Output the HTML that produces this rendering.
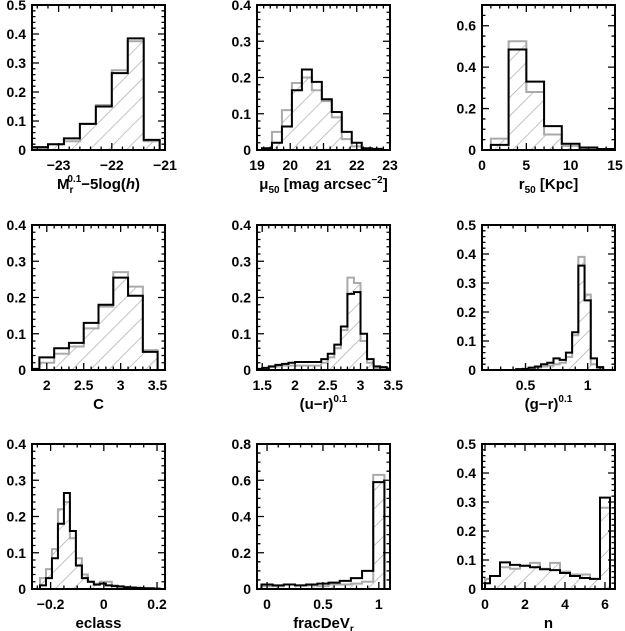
<!DOCTYPE html>
<html><head><meta charset="utf-8">
<style>
html,body{margin:0;padding:0;background:#fff;}
svg{display:block;}
text{font-family:"Liberation Sans",sans-serif;font-weight:bold;fill:#000;}
</style></head>
<body>
<svg id="fig" width="625" height="631" viewBox="0 0 625 631" xmlns="http://www.w3.org/2000/svg">
<defs>
<pattern id="hatch" patternUnits="userSpaceOnUse" width="13" height="13" patternTransform="rotate(45)">
<line x1="0" y1="0" x2="0" y2="13" stroke="#aaa" stroke-width="1.4"/>
</pattern>
</defs>
</svg>
<script>
// ---- data (one set of small arrays per panel) ----
const p1Edges=[-23.5,-23.2,-22.9,-22.6,-22.3,-22.0,-21.7,-21.4,-21.1];
const p1Black=[0.01,0.02,0.04,0.09,0.15,0.265,0.385,0.035];
const p1Gray=[0.005,0.02,0.03,0.09,0.155,0.275,0.375,0.03];
const p1XTicks=[-23,-22,-21];
const p1YTicks=[0,0.1,0.2,0.3,0.4,0.5];

const p2Edges=[19.15,19.45,19.75,20.05,20.35,20.65,20.95,21.25,21.55,21.85,22.15,22.45,22.75];
const p2Black=[0.005,0.02,0.065,0.165,0.222,0.188,0.14,0.105,0.05,0.02,0.005,0.003];
const p2Gray=[0.005,0.05,0.11,0.185,0.2,0.165,0.135,0.09,0.03,0.01,0.003,0.001];
const p2XTicks=[19,20,21,22,23];
const p2YTicks=[0,0.1,0.2,0.3,0.4];

const p3Edges=[1,3,5,7,9,11,13,15];
const p3Black=[0.025,0.485,0.33,0.115,0.03,0.012,0.005];
const p3Gray=[0.055,0.525,0.28,0.075,0.02,0.008,0.003];
const p3XTicks=[0,5,10,15];
const p3YTicks=[0,0.2,0.4,0.6];

const p4Edges=[1.7,1.9,2.1,2.3,2.5,2.7,2.9,3.1,3.3,3.5];
const p4Black=[0.003,0.035,0.06,0.075,0.13,0.18,0.255,0.205,0.05];
const p4Gray=[0.0,0.02,0.045,0.065,0.115,0.175,0.27,0.23,0.055];
const p4XTicks=[2,2.5,3,3.5];
const p4YTicks=[0,0.1,0.2,0.3,0.4];

const p5Edges=[1.4,1.5,1.6,1.7,1.8,1.9,2.0,2.1,2.2,2.3,2.4,2.5,2.6,2.7,2.8,2.9,3.0,3.1,3.2,3.3,3.4,3.5];
const p5Black=[0.003,0.006,0.01,0.014,0.017,0.02,0.022,0.022,0.022,0.022,0.03,0.045,0.07,0.12,0.21,0.215,0.1,0.03,0.01,0.008,0.004];
const p5Gray=[0.002,0.005,0.008,0.01,0.012,0.012,0.012,0.012,0.012,0.012,0.02,0.035,0.06,0.11,0.255,0.24,0.08,0.02,0.005,0.003,0.002];
const p5XTicks=[1.5,2,2.5,3,3.5];
const p5YTicks=[0,0.1,0.2,0.3,0.4];

const p6Edges=[0.425,0.475,0.525,0.575,0.625,0.675,0.725,0.775,0.825,0.875,0.925,0.975,1.025,1.075,1.125];
const p6Black=[0.003,0.004,0.008,0.012,0.02,0.025,0.04,0.035,0.06,0.13,0.36,0.24,0.04,0.01];
const p6Gray=[0.002,0.003,0.005,0.008,0.012,0.015,0.02,0.025,0.045,0.12,0.39,0.26,0.02,0.005];
const p6XTicks=[0.5,1];
const p6YTicks=[0,0.1,0.2,0.3,0.4,0.5];

const p7Edges=[-0.24,-0.2175,-0.195,-0.1725,-0.15,-0.1275,-0.105,-0.0825,-0.06,-0.0375,-0.015,0.0075,0.03,0.0525,0.075,0.0975,0.12,0.1425,0.165,0.1875,0.21];
const p7Black=[0.01,0.03,0.085,0.18,0.265,0.16,0.065,0.03,0.02,0.012,0.015,0.01,0.008,0.007,0.005,0.004,0.003,0.002,0.002,0.001];
const p7Gray=[0.03,0.055,0.11,0.22,0.24,0.14,0.085,0.04,0.02,0.015,0.02,0.02,0.01,0.008,0.006,0.004,0.003,0.002,0.001,0.001];
const p7XTicks=[-0.2,0,0.2];
const p7YTicks=[0,0.1,0.2,0.3,0.4];

const p8Edges=[-0.05,0.05,0.15,0.25,0.35,0.45,0.55,0.65,0.75,0.85,0.95,1.05];
const p8Black=[0.025,0.02,0.025,0.02,0.025,0.03,0.035,0.045,0.06,0.1,0.59];
const p8Gray=[0.015,0.015,0.025,0.02,0.02,0.015,0.025,0.025,0.03,0.04,0.63];
const p8XTicks=[0,0.5,1];
const p8YTicks=[0,0.2,0.4,0.6,0.8];

const p9Edges=[0,0.25,0.75,1.25,1.75,2.25,2.75,3.25,3.75,4.25,4.75,5.25,5.75,6.25];
const p9Black=[0.02,0.045,0.092,0.083,0.08,0.075,0.068,0.065,0.055,0.045,0.038,0.035,0.315];
const p9Gray=[0.035,0.045,0.075,0.07,0.08,0.09,0.07,0.09,0.06,0.05,0.05,0.035,0.28];
const p9XTicks=[0,2,4,6];
const p9YTicks=[0,0.1,0.2,0.3,0.4,0.5];

const NS="http://www.w3.org/2000/svg";
const svg=document.getElementById('fig');
function mk(tag,attrs,parent){const e=document.createElementNS(NS,tag);for(const k in attrs)e.setAttribute(k,attrs[k]);(parent||svg).appendChild(e);return e;}

const panels=[
 {name:'abs-mag',edges:p1Edges,black:p1Black,gray:p1Gray,xt:p1XTicks,yt:p1YTicks,xmin:-23.5,xmax:-21,ymax:0.5,xminor:0.2,yminor:0.02,col:0,row:0,lab:'mag'},
 {name:'surface-brightness',edges:p2Edges,black:p2Black,gray:p2Gray,xt:p2XTicks,yt:p2YTicks,xmin:19,xmax:23,ymax:0.4,xminor:0.2,yminor:0.02,col:1,row:0,lab:'mu'},
 {name:'r50',edges:p3Edges,black:p3Black,gray:p3Gray,xt:p3XTicks,yt:p3YTicks,xmin:0,xmax:15,ymax:0.7,xminor:1,yminor:0.05,col:2,row:0,lab:'r50'},
 {name:'concentration',edges:p4Edges,black:p4Black,gray:p4Gray,xt:p4XTicks,yt:p4YTicks,xmin:1.8,xmax:3.6,ymax:0.4,xminor:0.1,yminor:0.02,col:0,row:1,lab:'C'},
 {name:'u-r-colour',edges:p5Edges,black:p5Black,gray:p5Gray,xt:p5XTicks,yt:p5YTicks,xmin:1.42,xmax:3.45,ymax:0.4,xminor:0.1,yminor:0.02,col:1,row:1,lab:'ur'},
 {name:'g-r-colour',edges:p6Edges,black:p6Black,gray:p6Gray,xt:p6XTicks,yt:p6YTicks,xmin:0.15,xmax:1.22,ymax:0.5,xminor:0.1,yminor:0.02,col:2,row:1,lab:'gr'},
 {name:'eclass',edges:p7Edges,black:p7Black,gray:p7Gray,xt:p7XTicks,yt:p7YTicks,xmin:-0.27,xmax:0.23,ymax:0.4,xminor:0.05,yminor:0.02,col:0,row:2,lab:'eclass'},
 {name:'fracdev',edges:p8Edges,black:p8Black,gray:p8Gray,xt:p8XTicks,yt:p8YTicks,xmin:-0.09,xmax:1.1,ymax:0.8,xminor:0.1,yminor:0.05,col:1,row:2,lab:'frac'},
 {name:'sersic-n',edges:p9Edges,black:p9Black,gray:p9Gray,xt:p9XTicks,yt:p9YTicks,xmin:-0.15,xmax:6.5,ymax:0.5,xminor:0.5,yminor:0.02,col:2,row:2,lab:'n'}
];
const colX=[32,257,482], rowY=[5,225,444], W=133, H=145;

function fmt(v){let s=(Math.round(v*100)/100).toString();return s.replace('-','\u2212');}

panels.forEach((p,i)=>{
 const L=colX[p.col],T=rowY[p.row],R=L+W,B=T+H;
 const sx=v=>L+(v-p.xmin)/(p.xmax-p.xmin)*W;
 const sy=v=>B-v/p.ymax*H;
 const g=mk('g',{});
 
 
 const cid='clip'+i;
 const cp=mk('clipPath',{id:cid},g);mk('rect',{x:L,y:T,width:W,height:H},cp);
 const inner=mk('g',{'clip-path':'url(#'+cid+')'},g);
 function stepPath(vals,closed){
  let d='M'+sx(p.edges[0])+','+sy(0);
  vals.forEach((v,k)=>{d+=' L'+sx(p.edges[k])+','+sy(v)+' L'+sx(p.edges[k+1])+','+sy(v);});
  d+=' L'+sx(p.edges[vals.length])+','+sy(0);
  if(closed)d+=' Z';return d;}
 const hatch=mk('path',{d:stepPath(p.gray,true),fill:'url(#hatch)',stroke:'none'},inner);
 
 
 const gp=mk('path',{d:stepPath(p.gray,false),fill:'none',stroke:'#aaa','stroke-width':2},inner);
 
 
 const bp=mk('path',{d:stepPath(p.black,false),fill:'none',stroke:'#000','stroke-width':2},inner);
 
 
 let td='';
 const x0=Math.ceil(p.xmin/p.xminor-1e-6);
 for(let k=x0;k*p.xminor<=p.xmax+1e-9;k++){const v=k*p.xminor;const maj=p.xt.some(t=>Math.abs(t-v)<1e-6);const len=maj?7:3.5;const X=sx(v);td+=`M${X},${B}v${-len}M${X},${T}v${len}`;}
 for(let k=0;k*p.yminor<=p.ymax+1e-9;k++){const v=k*p.yminor;const maj=p.yt.some(t=>Math.abs(t-v)<1e-6);const len=maj?7:3.5;const Y=sy(v);td+=`M${L},${Y}h${len}M${R},${Y}h${-len}`;}
 mk('path',{d:td,stroke:'#000','stroke-width':1.3,fill:'none'},g);
 const fr=mk('rect',{x:L,y:T,width:W,height:H,fill:'none',stroke:'#000','stroke-width':2},g);
 
 
 p.xt.forEach(t=>{const e=mk('text',{x:sx(t),y:B+20,'text-anchor':'middle','font-size':14},g);e.textContent=fmt(t);
  
  });
 p.yt.forEach(t=>{const e=mk('text',{x:L-6,y:sy(t)+5,'text-anchor':'end','font-size':14},g);e.textContent=(t===0?'0':fmt(t));
  
  });
 const lab=mk('text',{x:L+W/2,y:B+39,'text-anchor':'middle','font-size':15,'font-weight':'normal'},g);
 
 
 const htm={
  mag:'M<tspan font-size="10" dy="4">r</tspan><tspan font-size="10" dx="-6" dy="-11">0.1</tspan><tspan dy="7">\u22125log(</tspan><tspan font-style="italic">h</tspan>)',
  mu:'\u03bc<tspan font-size="10" dy="4">50</tspan><tspan dy="-4"> [mag arcsec</tspan><tspan font-size="10" dy="-6">\u22122</tspan><tspan dy="6">]</tspan>',
  r50:'r<tspan font-size="10" dy="4">50</tspan><tspan dy="-4"> [Kpc]</tspan>',
  C:'C',
  ur:'(u\u2212r)<tspan font-size="10" dy="-7">0.1</tspan>',
  gr:'(g\u2212r)<tspan font-size="10" dy="-7">0.1</tspan>',
  eclass:'eclass',
  frac:'fracDeV<tspan font-size="10" dy="4">r</tspan>',
  n:'n'}[p.lab];
 lab.innerHTML=htm;
});
</script>
</body></html>
